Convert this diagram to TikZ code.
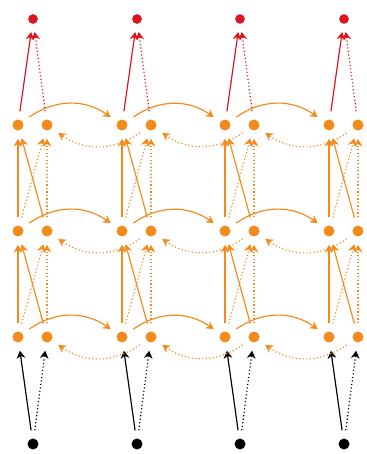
\documentclass[tikz,border=0pt]{standalone}
\usetikzlibrary{arrows.meta}
\definecolor{hidfill}{RGB}{243,139,28}
\definecolor{outfill}{RGB}{224,18,28}

\begin{document}
\begin{tikzpicture}[
  x=0.03cm, y=0.03cm,
  unit/.style={circle, inner sep=0pt, minimum size=3.3mm, outer sep=2.5mm},
  hid/.style={unit, fill=hidfill},
  outp/.style={unit, fill=outfill, minimum size=2.9mm},
  inp/.style={unit, fill=black},
  fwd/.style={-{Stealth[length=2.3mm, width=2.6mm]}, line width=1pt},
  bwd/.style={fwd, dotted},
]
\useasboundingbox (0,0) rectangle (366,454);

% units: input, three bidirectional layers, output
\foreach \i/\c in {1/33, 2/137, 3/240, 4/344} {
  \node[inp] (in\i) at (\c,10) {};
  \foreach \l/\y in {1/117, 2/223, 3/329} {
    \node[hid] (f\l\i) at (\c-15,\y) {};
    \node[hid] (b\l\i) at (\c+14,\y) {};
  }
  \node[outp] (out\i) at (\c,435) {};
}

% input to first layer
\foreach \i in {1,...,4} {
  \draw[fwd] (in\i) -- (f1\i);
  \draw[bwd] (in\i) -- (b1\i);
}

% between layers
\foreach \l/\m in {1/2, 2/3}
  \foreach \i in {1,...,4} {
    \draw[fwd, color=hidfill] (f\l\i) -- (f\m\i);
    \draw[fwd, color=hidfill] (b\l\i) -- (f\m\i);
    \draw[bwd, color=hidfill] (f\l\i) -- (b\m\i);
    \draw[bwd, color=hidfill] (b\l\i) -- (b\m\i);
  }

% recurrence: forward over the top, backward underneath
\foreach \l in {1,2,3}
  \foreach \i/\j in {1/2, 2/3, 3/4} {
    \draw[fwd, color=hidfill] (f\l\i) to[bend left=35] (f\l\j);
    \draw[bwd, color=hidfill] (b\l\j) to[bend left=35] (b\l\i);
  }

% to output
\foreach \i in {1,...,4} {
  \draw[fwd, color=outfill] (f3\i) -- (out\i);
  \draw[bwd, color=outfill] (b3\i) -- (out\i);
}
\end{tikzpicture}
\end{document}
